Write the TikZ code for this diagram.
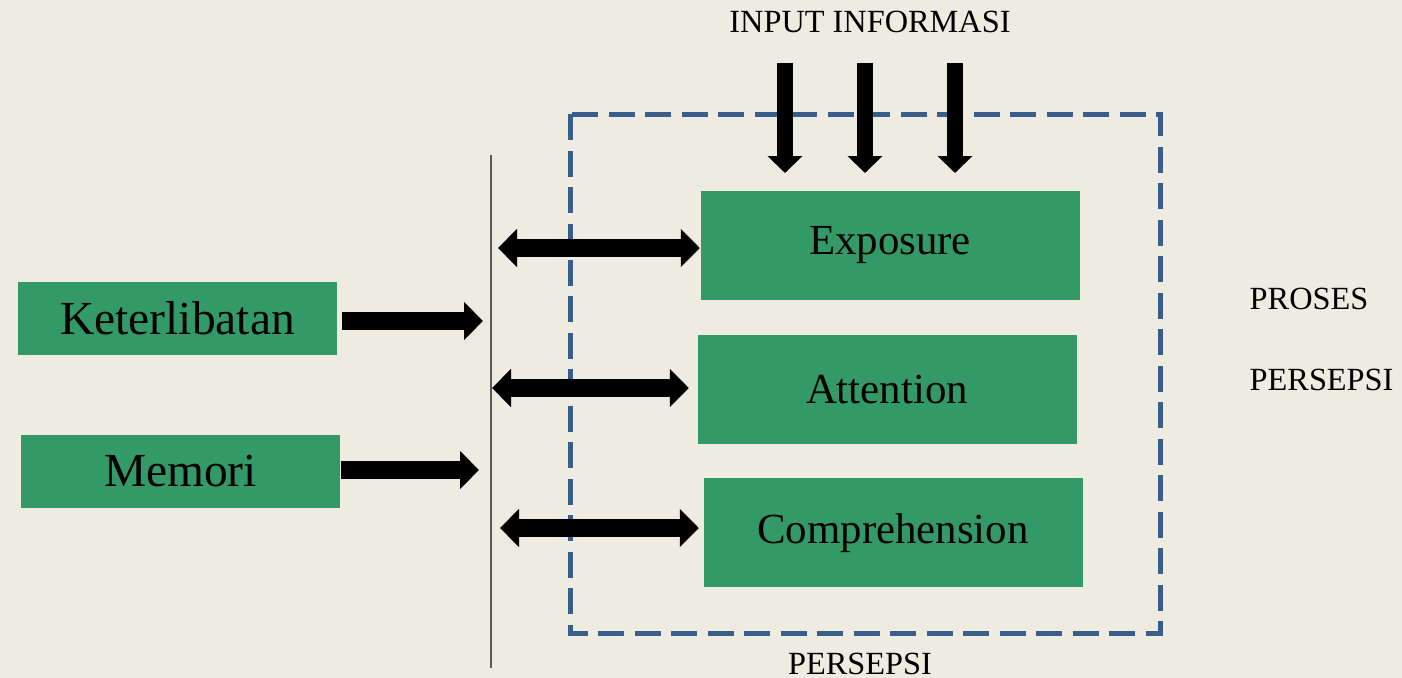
\documentclass[tikz,border=0pt]{standalone}
\usepackage{fontspec}
\setmainfont{Liberation Serif}
\usetikzlibrary{arrows.meta,positioning}
\definecolor{bg}{HTML}{EEEBE0}
\definecolor{boxgreen}{HTML}{339966}
\definecolor{dashblue}{HTML}{3A5E8C}
\tikzstyle{factor} = [rectangle, minimum width=3.19cm, minimum height=0.73cm, inner sep=0pt, fill=boxgreen, font=\fontsize{13.5}{15}\selectfont]
\tikzstyle{stage} = [rectangle, minimum width=3.79cm, minimum height=1.09cm, inner sep=0pt, fill=boxgreen, font=\fontsize{12.2}{14}\selectfont]
\tikzstyle{label} = [font=\fontsize{9.2}{11}\selectfont, inner sep=0pt]
\tikzstyle{blockarrow} = [line width=0.18cm, -{Triangle[width=0.37cm,length=0.19cm]}]
\tikzstyle{dblarrow} = [line width=0.18cm, {Triangle[width=0.37cm,length=0.19cm]}-{Triangle[width=0.37cm,length=0.19cm]}]
\tikzstyle{inarrow} = [line width=0.16cm, -{Triangle[width=0.34cm,length=0.17cm]}]
\begin{document}
\begin{tikzpicture}
   \fill [bg] (0,0) rectangle (14.02,-6.78);
   \useasboundingbox (0,0) rectangle (14.02,-6.78);
   % left side
   \node (ket) [factor] at (1.775,-3.18) {Keterlibatan};
   \node (mem) [factor] at (1.805,-4.715) {Memori};
   % perception stages
   \node (exp) [stage] at (8.90,-2.45) {Exposure};
   \node (att) [stage, below=0.34cm of exp, xshift=-0.03cm] {Attention};
   \node (comp) [stage, below=0.33cm of att, xshift=0.06cm] {Comprehension};
   \draw [dashblue, line width=0.05cm, dash pattern=on 0.26cm off 0.105cm] (5.70,-1.14) rectangle (11.60,-6.33);
   % texts
   \node (input) [label] at (8.70,-0.22) {INPUT INFORMASI};
   \node (proses) [label, anchor=west] at (12.49,-2.99) {PROSES};
   \node (persepsi) [label, anchor=west] at (12.49,-3.80) {PERSEPSI};
   \node (bottom) [label] at (8.60,-6.64) {PERSEPSI};
   % divider
   \coordinate (top) at (4.91,-1.55);
   \coordinate (bot) at (4.91,-6.68);
   \draw [black!65, line width=0.02cm] (top) -- (bot);
   \coordinate (ketend) at (4.83,-3.21);
   \coordinate (memend) at (4.79,-4.70);
   \draw [blockarrow] ([xshift=0.04cm]ket.east |- ketend) -- (ketend);
   \draw [blockarrow] (mem.east |- memend) -- (memend);
   \coordinate (e1) at (4.98,-2.48);
   \coordinate (a1) at (4.92,-3.88);
   \coordinate (c1) at (5.00,-5.28);
   \draw [dblarrow] (e1) -- (exp.west |- e1);
   \draw [dblarrow] (a1) -- ([xshift=-0.08cm]att.west |- a1);
   \draw [dblarrow] (c1) -- ([xshift=-0.04cm]comp.west |- c1);
   % input arrows
   \foreach \x in {7.85,8.65,9.55}
      \draw [inarrow] (\x,-0.63) -- (\x,-1.73);
\end{tikzpicture}
\end{document}
